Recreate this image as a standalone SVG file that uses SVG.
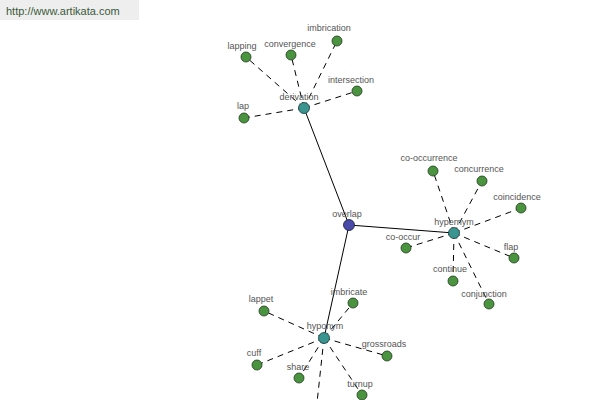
<svg xmlns="http://www.w3.org/2000/svg" width="600" height="400" viewBox="0 0 600 400">
<style>
text{font-family:"Liberation Sans",Arial,sans-serif;font-size:9px;fill:#555;text-anchor:middle}
.solid{stroke:#000;stroke-width:1;fill:none}
.dash{stroke:#000;stroke-width:1;stroke-dasharray:6,5;fill:none}
.leaf{fill:#4a9440;stroke:#1e3a1a;stroke-width:0.8}
.mid{fill:#3a9490;stroke:#1a3a3a;stroke-width:0.8}
.root{fill:#4a4aa8;stroke:#1a1a40;stroke-width:0.8}
</style>
<rect x="0" y="0" width="139" height="20" fill="#eeeeee"/>
<text x="6" y="15" style="font-size:11px;fill:#3a5a3a;text-anchor:start">http://www.artikata.com</text>
<g id="connectors">
<line class="solid" x1="349" y1="225" x2="304" y2="108"/>
<line class="solid" x1="349" y1="225" x2="454" y2="233"/>
<line class="solid" x1="349" y1="225" x2="324" y2="338"/>
<line class="dash" x1="304" y1="108" x2="246" y2="57"/>
<line class="dash" x1="304" y1="108" x2="291" y2="55"/>
<line class="dash" x1="304" y1="108" x2="337" y2="41"/>
<line class="dash" x1="304" y1="108" x2="357" y2="91"/>
<line class="dash" x1="304" y1="108" x2="244" y2="118"/>
<line class="dash" x1="454" y1="233" x2="433" y2="171"/>
<line class="dash" x1="454" y1="233" x2="482" y2="181"/>
<line class="dash" x1="454" y1="233" x2="521" y2="208"/>
<line class="dash" x1="454" y1="233" x2="406" y2="248"/>
<line class="dash" x1="454" y1="233" x2="514" y2="258"/>
<line class="dash" x1="454" y1="233" x2="453" y2="281"/>
<line class="dash" x1="454" y1="233" x2="489" y2="304"/>
<line class="dash" x1="324" y1="338" x2="264" y2="311"/>
<line class="dash" x1="324" y1="338" x2="353" y2="303"/>
<line class="dash" x1="324" y1="338" x2="387" y2="356"/>
<line class="dash" x1="324" y1="338" x2="257" y2="365"/>
<line class="dash" x1="324" y1="338" x2="299" y2="378"/>
<line class="dash" x1="324" y1="338" x2="362" y2="395"/>
<line class="dash" x1="324" y1="338" x2="316" y2="412"/>
</g>
<g id="overlap"><circle class="root" cx="349" cy="225" r="5.5"/><text x="347" y="217">overlap</text></g>
<g id="derivation"><circle class="mid" cx="304" cy="108" r="5.5"/><text x="299" y="100">derivation</text></g>
<g id="hypernym"><circle class="mid" cx="454" cy="233" r="5.5"/><text x="454" y="225">hypernym</text></g>
<g id="hyponym"><circle class="mid" cx="324" cy="338" r="5.5"/><text x="325" y="329">hyponym</text></g>
<g id="lapping"><circle class="leaf" cx="246" cy="57" r="5"/><text x="242" y="49">lapping</text></g>
<g id="convergence"><circle class="leaf" cx="291" cy="55" r="5"/><text x="290" y="47">convergence</text></g>
<g id="imbrication"><circle class="leaf" cx="337" cy="41" r="5"/><text x="329" y="31">imbrication</text></g>
<g id="intersection"><circle class="leaf" cx="357" cy="91" r="5"/><text x="351" y="83">intersection</text></g>
<g id="lap"><circle class="leaf" cx="244" cy="118" r="5"/><text x="243" y="109">lap</text></g>
<g id="co-occurrence"><circle class="leaf" cx="433" cy="171" r="5"/><text x="429" y="161">co-occurrence</text></g>
<g id="concurrence"><circle class="leaf" cx="482" cy="181" r="5"/><text x="479" y="172">concurrence</text></g>
<g id="coincidence"><circle class="leaf" cx="521" cy="208" r="5"/><text x="517" y="200">coincidence</text></g>
<g id="co-occur"><circle class="leaf" cx="406" cy="248" r="5"/><text x="403" y="240">co-occur</text></g>
<g id="flap"><circle class="leaf" cx="514" cy="258" r="5"/><text x="511" y="250">flap</text></g>
<g id="continue"><circle class="leaf" cx="453" cy="281" r="5"/><text x="450" y="272">continue</text></g>
<g id="conjunction"><circle class="leaf" cx="489" cy="304" r="5"/><text x="484" y="297">conjunction</text></g>
<g id="imbricate"><circle class="leaf" cx="353" cy="303" r="5"/><text x="349" y="295">imbricate</text></g>
<g id="lappet"><circle class="leaf" cx="264" cy="311" r="5"/><text x="261" y="302">lappet</text></g>
<g id="grossroads"><circle class="leaf" cx="387" cy="356" r="5"/><text x="384" y="347">grossroads</text></g>
<g id="cuff"><circle class="leaf" cx="257" cy="365" r="5"/><text x="254" y="356">cuff</text></g>
<g id="share"><circle class="leaf" cx="299" cy="378" r="5"/><text x="298" y="370">share</text></g>
<g id="turnup"><circle class="leaf" cx="362" cy="395" r="5"/><text x="360" y="387">turnup</text></g>
</svg>
